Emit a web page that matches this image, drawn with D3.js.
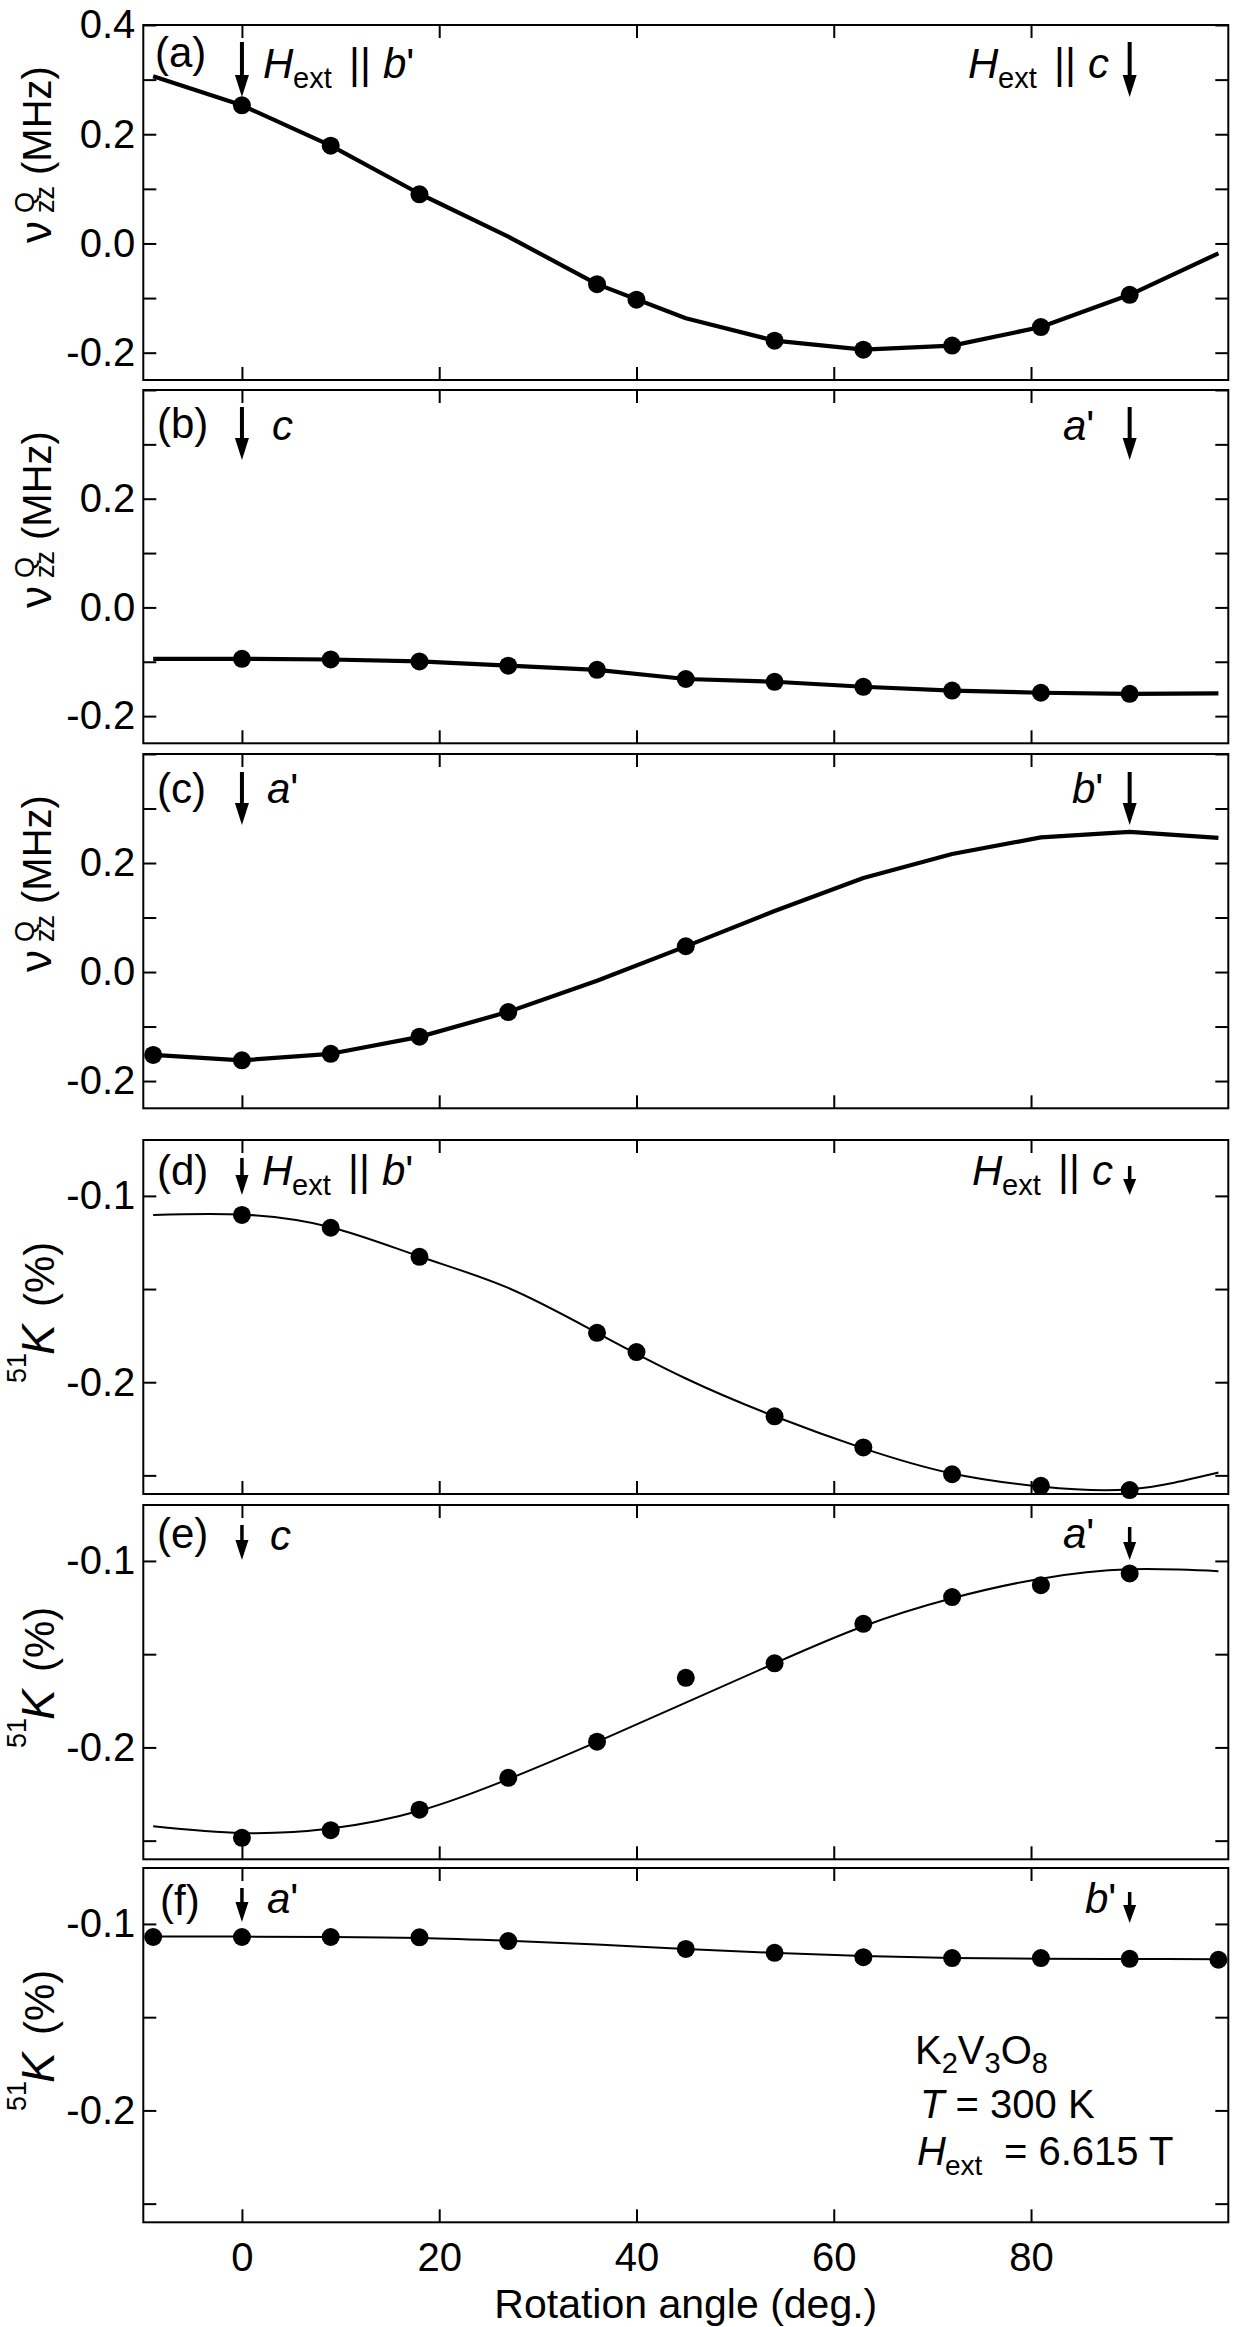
<!DOCTYPE html>
<html>
<head>
<meta charset="utf-8">
<script src="https://cdn.jsdelivr.net/npm/d3@7"></script>
<style>
body { margin: 0; background: #fff; }
svg { font-family: "Liberation Sans", Arial, Helvetica, sans-serif; }
</style>
</head>
<body>
<svg id="chart" width="1235" height="2327"></svg>
<script>
// angles (deg.) of the computed / fitted curves
var curveAngles = [-9, 0, 9, 18, 27, 36, 45, 54, 63, 72, 81, 90, 99];

// (a) nu_zz^Q (MHz), H_ext from b' to c
var nuA_curve = [0.306, 0.253, 0.179, 0.091, 0.0125, -0.0745, -0.137, -0.178, -0.1945, -0.187, -0.153, -0.094, -0.018];
var nuA_angles = [0, 9, 18, 36, 40, 54, 63, 72, 81, 90];
var nuA_values = [0.253, 0.179, 0.090, -0.0745, -0.103, -0.178, -0.1945, -0.187, -0.153, -0.094];

// (b) nu_zz^Q (MHz), c to a'
var nuB_curve = [-0.0945, -0.0945, -0.0958, -0.0993, -0.1071, -0.1148, -0.1317, -0.1368, -0.146, -0.153, -0.157, -0.159, -0.158];
var nuB_angles = [0, 9, 18, 27, 36, 45, 54, 63, 72, 81, 90];
var nuB_values = [-0.0945, -0.0958, -0.0993, -0.1071, -0.1148, -0.1317, -0.1368, -0.146, -0.153, -0.157, -0.159];

// (c) nu_zz^Q (MHz), a' to b'
var nuC_curve = [-0.152, -0.162, -0.150, -0.119, -0.073, -0.016, 0.047, 0.112, 0.1725, 0.2165, 0.247, 0.257, 0.246];
var nuC_angles = [-9, 0, 9, 18, 27, 45];
var nuC_values = [-0.152, -0.162, -0.150, -0.1187, -0.0734, 0.0473];

// (d) 51K (%), b' to c
var kD_curve = [-0.1102, -0.1100, -0.1168, -0.1325, -0.1494, -0.1735, -0.198, -0.2183, -0.2355, -0.2490, -0.2560, -0.2575, -0.2485];
var kD_angles = [0, 9, 18, 36, 40, 54, 63, 72, 81, 90];
var kD_values = [-0.1102, -0.1171, -0.1327, -0.1735, -0.1838, -0.2183, -0.235, -0.2494, -0.2556, -0.2579];

// (e) 51K (%), c to a'
var kE_curve = [-0.2423, -0.2459, -0.2435, -0.2340, -0.2170, -0.1970, -0.176, -0.1549, -0.135, -0.120, -0.1095, -0.1045, -0.1055];
var kE_angles = [0, 9, 18, 27, 36, 45, 54, 63, 72, 81, 90];
var kE_values = [-0.2485, -0.2444, -0.2334, -0.2163, -0.1969, -0.1627, -0.1549, -0.1337, -0.1194, -0.1130, -0.1067];

// (f) 51K (%), a' to b'
var kF_curve = [-0.1068, -0.1068, -0.1070, -0.1075, -0.1090, -0.1110, -0.1135, -0.1155, -0.1172, -0.1182, -0.1187, -0.1188, -0.1190];
var kF_angles = [-9, 0, 9, 18, 27, 45, 54, 63, 72, 81, 90, 99];
var kF_values = [-0.107, -0.107, -0.107, -0.1072, -0.1092, -0.1134, -0.1155, -0.1178, -0.1183, -0.1183, -0.1187, -0.1192];

// axes
var angleDomain = [-10, 100];
var angleTicks = [0, 20, 40, 60, 80];
var nuDomain = [-0.25, 0.4];
var nuTicks = [-0.2, -0.1, 0, 0.1, 0.2, 0.3, 0.4];
var kDomain = [-0.26, -0.07];
var kTicks = [-0.25, -0.2, -0.15, -0.1];

var svg = d3.select("#chart");
var left = 143.3, right = 1228.3, tick = 13;

var x = d3.scaleLinear().domain(angleDomain).range([left, right]);

var panels = [
    { tag: "(a)", top: 25,   bottom: 380,    dom: nuDomain, ticks: nuTicks, lab: [-0.2, 0, 0.2, 0.4], curve: nuA_curve, pa: nuA_angles, pv: nuA_values, fit: false },
    { tag: "(b)", top: 390,  bottom: 743.3,  dom: nuDomain, ticks: nuTicks, lab: [-0.2, 0, 0.2],      curve: nuB_curve, pa: nuB_angles, pv: nuB_values, fit: false },
    { tag: "(c)", top: 754,  bottom: 1108.3, dom: nuDomain, ticks: nuTicks, lab: [-0.2, 0, 0.2],      curve: nuC_curve, pa: nuC_angles, pv: nuC_values, fit: false },
    { tag: "(d)", top: 1140, bottom: 1494,   dom: kDomain,  ticks: kTicks,  lab: [-0.2, -0.1],        curve: kD_curve,  pa: kD_angles,  pv: kD_values,  fit: true },
    { tag: "(e)", top: 1505, bottom: 1859.3, dom: kDomain,  ticks: kTicks,  lab: [-0.2, -0.1],        curve: kE_curve,  pa: kE_angles,  pv: kE_values,  fit: true },
    { tag: "(f)", top: 1868, bottom: 2222.3, dom: kDomain,  ticks: kTicks,  lab: [-0.2, -0.1],        curve: kF_curve,  pa: kF_angles,  pv: kF_values,  fit: true }
];

function noDomain(sel) {
    sel.select(".domain").remove();
    sel.selectAll(".tick line").attr("stroke", "#000").attr("stroke-width", 2);
    sel.selectAll(".tick text").attr("fill", "#000").attr("font-size", 40)
        .attr("font-family", "'Liberation Sans', Arial, Helvetica, sans-serif");
}

panels.forEach(function(p, i) {
    var y = d3.scaleLinear().domain(p.dom).range([p.bottom, p.top]);
    var g = svg.append("g").attr("class", "panel");
    var last = (i == panels.length - 1);

    g.append("g").attr("transform", "translate(" + left + ",0)")
        .call(d3.axisLeft(y).tickValues(p.ticks).tickSize(-tick).tickPadding(8)
              .tickFormat(function(d) {
                  var show = p.lab.some(function(l) { return Math.abs(l - d) < 1e-9; });
                  return show ? d.toFixed(1) : "";
              }))
        .call(noDomain);
    g.append("g").attr("transform", "translate(" + right + ",0)")
        .call(d3.axisRight(y).tickValues(p.ticks).tickSize(-tick).tickFormat(""))
        .call(noDomain);
    g.append("g").attr("transform", "translate(0," + p.top + ")")
        .call(d3.axisTop(x).tickValues(angleTicks).tickSize(-tick).tickFormat(""))
        .call(noDomain);
    g.append("g").attr("transform", "translate(0," + p.bottom + ")")
        .call(d3.axisBottom(x).tickValues(angleTicks).tickSize(-tick).tickPadding(20)
              .tickFormat(last ? d3.format("d") : ""))
        .call(noDomain);

    g.append("rect")
        .attr("x", left).attr("y", p.top)
        .attr("width", right - left).attr("height", p.bottom - p.top)
        .attr("fill", "none").attr("stroke", "#000").attr("stroke-width", 2);

    // computed curve (a-c: polyline, d-f: fit)
    var line = d3.line()
        .x(function(d, j) { return x(curveAngles[j]); })
        .y(function(d) { return y(d); })
        .curve(p.fit ? d3.curveNatural : d3.curveLinear);
    g.append("path").datum(p.curve)
        .attr("d", line)
        .attr("fill", "none").attr("stroke", "#000")
        .attr("stroke-width", p.fit ? 2 : 4.2)
        .attr("stroke-linejoin", "round");

    g.selectAll("circle.pt").data(p.pa).enter()
        .append("circle").attr("class", "pt")
        .attr("cx", function(d) { return x(d); })
        .attr("cy", function(d, j) { return y(p.pv[j]); })
        .attr("r", 9)
        .attr("fill", "#000");
});

// ---- annotations ----
function label(xp, yp, txt, italic, size) {
    return svg.append("text").attr("x", xp).attr("y", yp)
        .attr("font-size", size || 42)
        .attr("font-style", italic ? "italic" : "normal")
        .text(txt);
}

// axis name with a straight prime, e.g. b'
function axisName(xp, yp, letter, primed) {
    var t = label(xp, yp, letter, true);
    if (primed) t.append("tspan").attr("font-style", "normal").text("'");
    return t;
}

function hext(x0, base, letter, primed) {
    label(x0, base, "H", true);
    label(x0 + 30, base + 10, "ext", false, 29);
    label(x0 + 86, base, "||", false);
    axisName(x0 + 120, base, letter, primed);
}

function arrow(xp, y0, y1, hl, hw, sw) {
    svg.append("line")
        .attr("x1", xp).attr("x2", xp)
        .attr("y1", y0).attr("y2", y1 - hl + 1)
        .attr("stroke", "#000").attr("stroke-width", sw);
    svg.append("path")
        .attr("d", "M" + (xp - hw) + "," + (y1 - hl) + "L" + (xp + hw) + "," + (y1 - hl) + "L" + xp + "," + y1 + "Z")
        .attr("fill", "#000");
}

var x0 = x(0), x90 = x(90);

label(155, 67, "(a)");
arrow(x0, 42, 97, 22, 7, 4);
hext(263, 78, "b", true);
hext(968, 78, "c", false);
arrow(x90, 42, 97, 22, 7, 4);

label(157, 438, "(b)");
arrow(x0, 407, 460, 22, 7, 4);
axisName(272, 440, "c", false);
axisName(1063, 440, "a", true);
arrow(x90, 407, 460, 22, 7, 4);

label(157, 803, "(c)");
arrow(x0, 772, 825, 22, 7, 4);
axisName(267, 803, "a", true);
axisName(1072, 803, "b", true);
arrow(x90, 772, 825, 22, 7, 4);

label(157, 1185, "(d)");
arrow(x0, 1158, 1195, 20, 6.5, 3.5);
hext(262, 1185, "b", true);
hext(972, 1185, "c", false);
arrow(x90, 1166, 1195, 16, 6.5, 3.5);

label(157, 1548, "(e)");
arrow(x0, 1525, 1560, 20, 6.5, 3.5);
axisName(270, 1550, "c", false);
axisName(1063, 1548, "a", true);
arrow(x90, 1527, 1560, 18, 6.5, 3.5);

label(160, 1915, "(f)");
arrow(x0, 1888, 1922, 20, 6.5, 3.5);
axisName(267, 1913, "a", true);
axisName(1085, 1913, "b", true);
arrow(x90, 1892, 1923, 18, 6.5, 3.5);

// sample / conditions
var f1 = svg.append("text").attr("x", 915).attr("y", 2064).attr("font-size", 40);
f1.append("tspan").text("K");
f1.append("tspan").attr("dy", 9).attr("font-size", 29).text("2");
f1.append("tspan").attr("dy", -9).text("V");
f1.append("tspan").attr("dy", 9).attr("font-size", 29).text("3");
f1.append("tspan").attr("dy", -9).text("O");
f1.append("tspan").attr("dy", 9).attr("font-size", 29).text("8");

var f2 = svg.append("text").attr("x", 920).attr("y", 2118).attr("font-size", 40);
f2.append("tspan").attr("font-style", "italic").text("T");
f2.append("tspan").text(" = 300 K");

label(917, 2165, "H", true, 40);
label(945, 2175, "ext", false, 28);
label(1004, 2165, "= 6.615 T", false, 40);

// axis titles
function nuTitle(top) {
    var t = svg.append("text").attr("transform", "translate(51," + (top + 218) + ") rotate(-90)")
        .attr("font-size", 40);
    t.append("tspan").attr("x", 0).attr("y", 0).attr("font-size", 44).text("ν");
    t.append("tspan").attr("x", 30).attr("y", -17).attr("font-size", 27).text("Q");
    t.append("tspan").attr("x", 30).attr("y", 3).attr("font-size", 27).text("zz");
    t.append("tspan").attr("x", 68).attr("y", 0).text("(MHz)");
}
function kTitle(top) {
    var t = svg.append("text").attr("transform", "translate(54," + (top + 243) + ") rotate(-90)")
        .attr("font-size", 42);
    t.append("tspan").attr("x", 0).attr("y", -28).attr("font-size", 27).text("51");
    t.append("tspan").attr("x", 28).attr("y", 0).attr("font-style", "italic").attr("font-size", 46).text("K");
    t.append("tspan").attr("x", 76).attr("y", 0).text("(%)");
}
panels.forEach(function(p, i) {
    if (i < 3) nuTitle(p.top); else kTitle(p.top);
});

svg.append("text")
    .attr("x", (left + right) / 2).attr("y", 2318)
    .attr("text-anchor", "middle").attr("font-size", 41)
    .text("Rotation angle (deg.)");
</script>
</body>
</html>
